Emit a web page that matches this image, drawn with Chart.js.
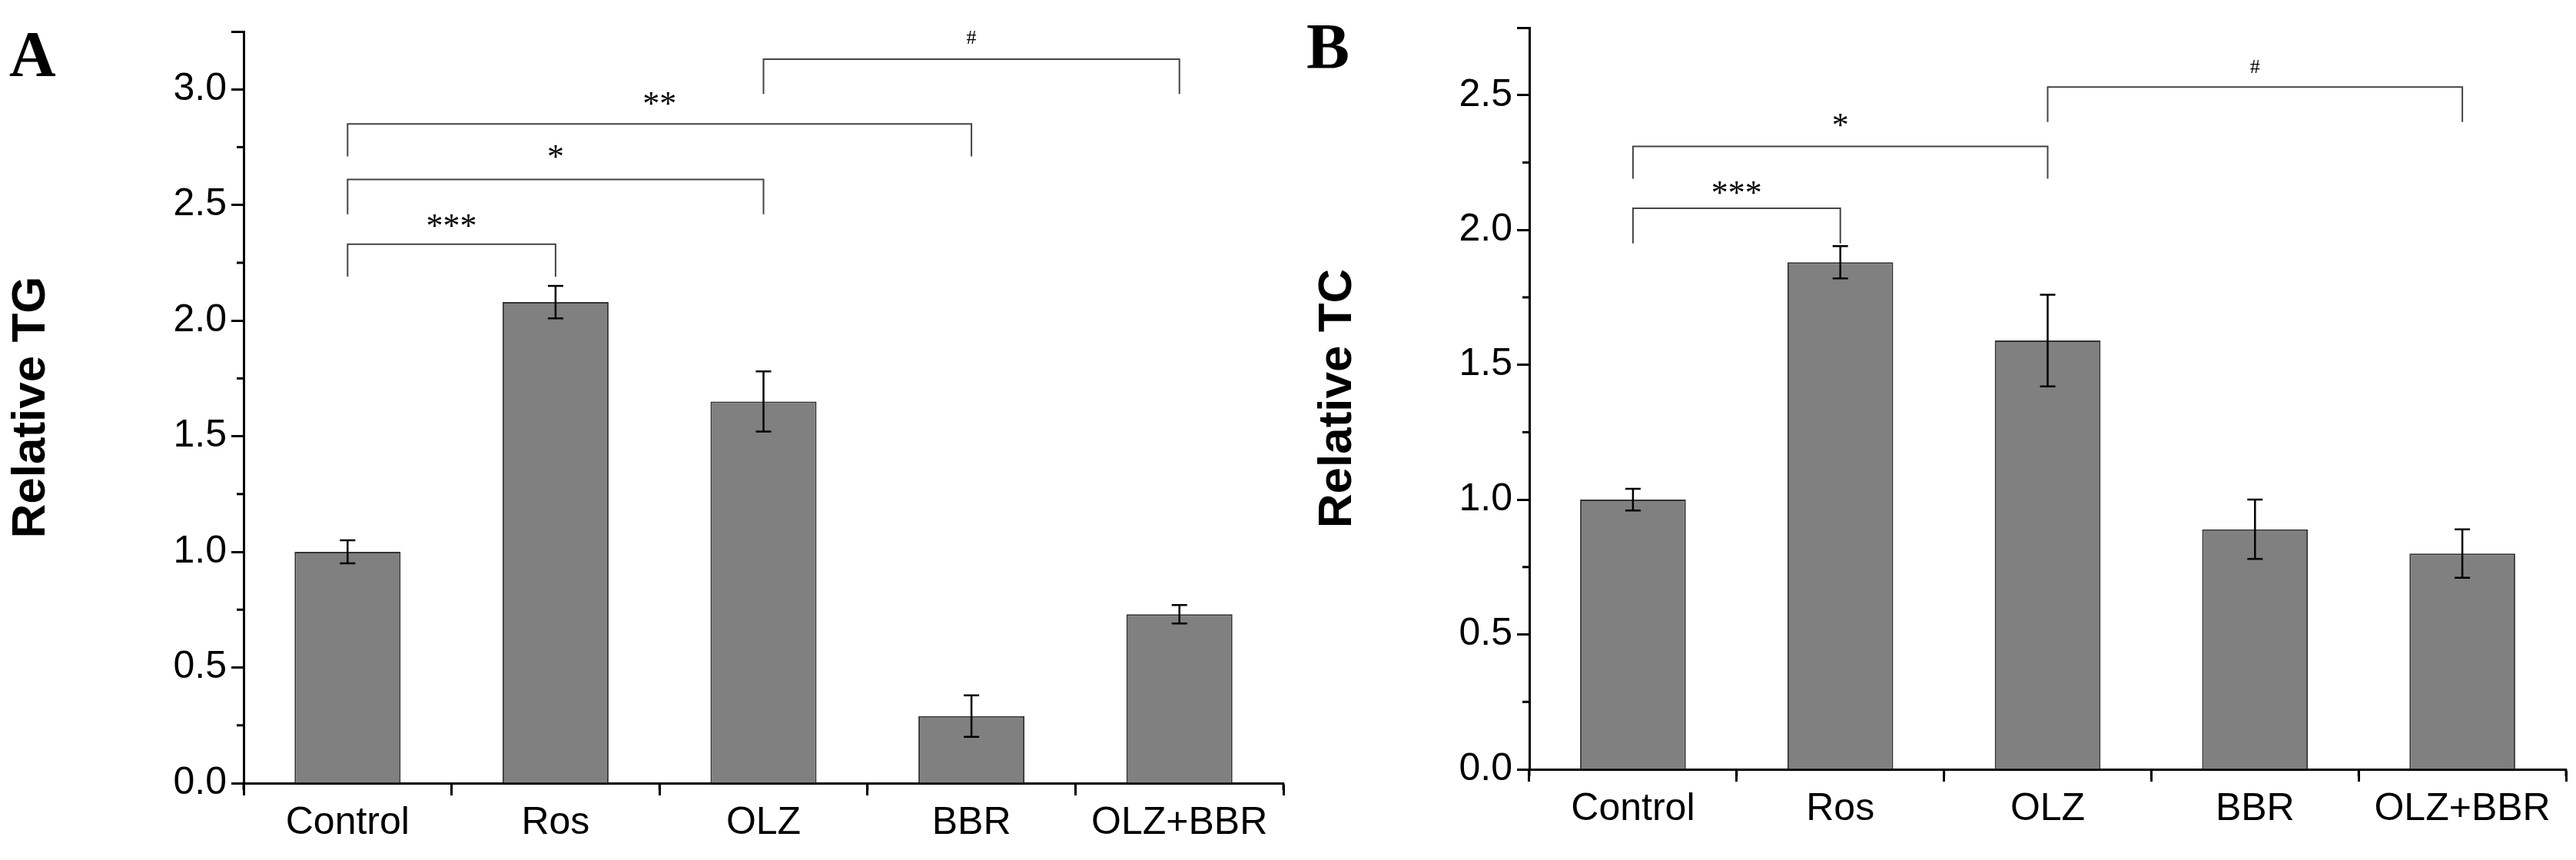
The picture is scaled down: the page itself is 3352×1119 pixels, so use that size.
<!DOCTYPE html>
<html>
<head>
<meta charset="utf-8">
<script src="https://cdn.jsdelivr.net/npm/chart.js@4.4.0/dist/chart.umd.min.js"></script>
<style>
  body { margin: 0; background: #fff; width: 3352px; height: 1119px; position: relative; overflow: hidden; }
  .box { position: absolute; top: 0; height: 1119px; }
  .tag { position: absolute; font-family: "Liberation Serif", serif; font-weight: bold; font-size: 84px; }
</style>
</head>
<body>
<div class="box" style="left:0;width:1700px"><canvas id="chartA"></canvas></div>
<div class="box" style="left:1700px;width:1652px"><canvas id="chartB"></canvas></div>
<div class="tag" style="left:12px;top:22px">A</div>
<div class="tag" style="left:1700px;top:12px">B</div>
<script>
const categories = ['Control', 'Ros', 'OLZ', 'BBR', 'OLZ+BBR'];

const tgValues = [1.00, 2.08, 1.65, 0.29, 0.73];
const tgErrors = [0.05, 0.07, 0.13, 0.09, 0.04];
const tcValues = [1.00, 1.88, 1.59, 0.89, 0.80];
const tcErrors = [0.04, 0.06, 0.17, 0.11, 0.09];

// brackets: [from index, to index, top, left leg end, right leg end, label, label y]
const tgBrackets = [
    [0, 1, 2.33, 2.19, 2.19, '***', 2.40],
    [0, 2, 2.61, 2.46, 2.46, '*', 2.70],
    [0, 3, 2.85, 2.71, 2.71, '**', 2.93],
    [2, 4, 3.13, 2.98, 2.98, '#', 3.22]
];
const tcBrackets = [
    [0, 1, 2.08, 1.95, 1.95, '***', 2.13],
    [0, 2, 2.31, 2.19, 2.19, '*', 2.38],
    [2, 4, 2.53, 2.40, 2.40, '#', 2.60]
];

const extras = {
    id: 'extras',
    afterDatasetsDraw(chart, args, opts) {
        const ctx = chart.ctx;
        const x = chart.scales.x, y = chart.scales.y;
        ctx.save();
        ctx.strokeStyle = '#000';
        // error bars
        ctx.lineWidth = 2.5;
        opts.values.forEach((v, i) => {
            const cx = x.getPixelForValue(i);
            const top = y.getPixelForValue(v + opts.errors[i]);
            const bot = y.getPixelForValue(v - opts.errors[i]);
            ctx.beginPath();
            ctx.moveTo(cx, top); ctx.lineTo(cx, bot);
            ctx.moveTo(cx - 10, top); ctx.lineTo(cx + 10, top);
            ctx.moveTo(cx - 10, bot); ctx.lineTo(cx + 10, bot);
            ctx.stroke();
        });
        // brackets
        ctx.lineWidth = 2;
        ctx.strokeStyle = '#444';
        ctx.fillStyle = '#000';
        ctx.textAlign = 'center';
        ctx.textBaseline = 'middle';
        opts.brackets.forEach(b => {
            const x1 = x.getPixelForValue(b[0]), x2 = x.getPixelForValue(b[1]);
            const yt = y.getPixelForValue(b[2]);
            ctx.beginPath();
            ctx.moveTo(x1, y.getPixelForValue(b[3]));
            ctx.lineTo(x1, yt); ctx.lineTo(x2, yt);
            ctx.lineTo(x2, y.getPixelForValue(b[4]));
            ctx.stroke();
            ctx.font = b[5] === '#' ? '26px "Liberation Serif"' : '44px "Liberation Serif"';
            ctx.fillText(b[5], (x1 + x2) / 2, y.getPixelForValue(b[6]));
        });
        // minor ticks
        ctx.strokeStyle = '#000';
        ctx.lineWidth = 3;
        for (let v = 0.25; v < y.max; v += 0.5) {
            const py = y.getPixelForValue(v);
            ctx.beginPath(); ctx.moveTo(x.left, py); ctx.lineTo(x.left - 9, py); ctx.stroke();
        }
        for (let i = 0; i <= categories.length; i++) {
            const px = x.getPixelForValue(i - 0.5);
            ctx.beginPath(); ctx.moveTo(px, y.bottom); ctx.lineTo(px, y.bottom + 9); ctx.stroke();
        }
        ctx.restore();
    }
};

function makeChart(id, values, errors, brackets, title, yMax, yWidth, xHeight, pad) {
    return new Chart(document.getElementById(id), {
        type: 'bar',
        data: {
            labels: categories,
            datasets: [{
                data: values,
                backgroundColor: '#808080',
                borderColor: '#333',
                borderWidth: 2,
                borderSkipped: 'bottom',
                categoryPercentage: 1,
                barPercentage: 0.51
            }]
        },
        plugins: [extras],
        options: {
            responsive: true,
            maintainAspectRatio: false,
            animation: false,
            layout: { padding: pad },
            plugins: {
                legend: { display: false },
                tooltip: { enabled: false },
                extras: { values: values, errors: errors, brackets: brackets }
            },
            scales: {
                x: {
                    grid: { display: true, drawOnChartArea: false, tickLength: 16, tickWidth: 3, color: '#000' },
                    border: { color: '#000', width: 3 },
                    ticks: { color: '#000', font: { family: '"Liberation Sans Narrow", "Liberation Sans"', size: 50 }, padding: 6 },
                    afterFit(axis) { axis.height = xHeight; }
                },
                y: {
                    min: 0,
                    max: yMax,
                    grid: { display: true, drawOnChartArea: false, tickLength: 16, tickWidth: 3, color: '#000' },
                    border: { color: '#000', width: 3 },
                    ticks: {
                        stepSize: 0.5,
                        color: '#000',
                        font: { family: '"Liberation Sans Narrow", "Liberation Sans"', size: 50 },
                        padding: 6,
                        callback: v => (v * 2) % 1 === 0 ? v.toFixed(1) : ''
                    },
                    title: {
                        display: true,
                        text: title,
                        color: '#000',
                        font: { family: '"Liberation Sans"', size: 62, weight: 'bold' }
                    },
                    afterFit(axis) { axis.width = yWidth; }
                }
            }
        }
    });
}

makeChart('chartA', tgValues, tgErrors, tgBrackets, 'Relative TG', 3.25, 317, 100,
    { left: 0, right: 30, top: 41, bottom: 0 });
makeChart('chartB', tcValues, tcErrors, tcBrackets, 'Relative TC', 2.75, 290, 118,
    { left: 0, right: 13, top: 14, bottom: 0 });
</script>
</body>
</html>
